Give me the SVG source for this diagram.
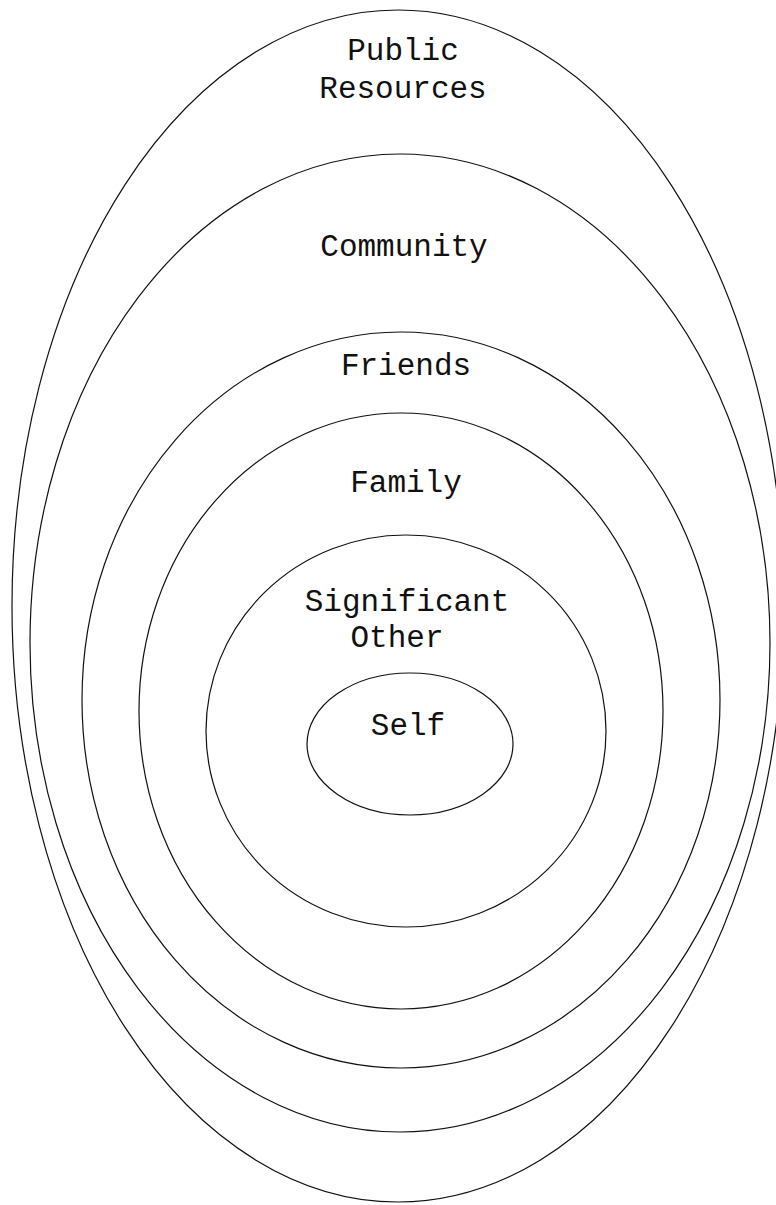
<svg xmlns="http://www.w3.org/2000/svg" width="776" height="1205" viewBox="0 0 776 1205">
<style>
.ring{fill:none;stroke:#111;stroke-width:1.2}
.lbl{font-family:"Liberation Mono","DejaVu Sans Mono",monospace;font-size:31px;fill:#111;text-anchor:middle}
</style>
<rect width="776" height="1205" fill="#fff"/>
<g id="public-resources">
<ellipse class="ring" cx="398" cy="606" rx="386" ry="596"/>
<text class="lbl" x="403" y="60">Public</text>
<text class="lbl" x="403" y="98">Resources</text>
</g>
<g id="community">
<ellipse class="ring" cx="400" cy="643" rx="370" ry="489"/>
<text class="lbl" x="404" y="256">Community</text>
</g>
<g id="friends">
<ellipse class="ring" cx="401" cy="700" rx="319" ry="368"/>
<text class="lbl" x="406" y="375">Friends</text>
</g>
<g id="family">
<ellipse class="ring" cx="401" cy="711" rx="262" ry="298"/>
<text class="lbl" x="406" y="492">Family</text>
</g>
<g id="significant-other">
<ellipse class="ring" cx="406" cy="731" rx="200" ry="196"/>
<text class="lbl" x="407" y="611">Significant</text>
<text class="lbl" x="397" y="647">Other</text>
</g>
<g id="self">
<ellipse class="ring" cx="410" cy="744" rx="103" ry="71"/>
<text class="lbl" x="408" y="735">Self</text>
</g>
<g id="connectors"></g>
</svg>
